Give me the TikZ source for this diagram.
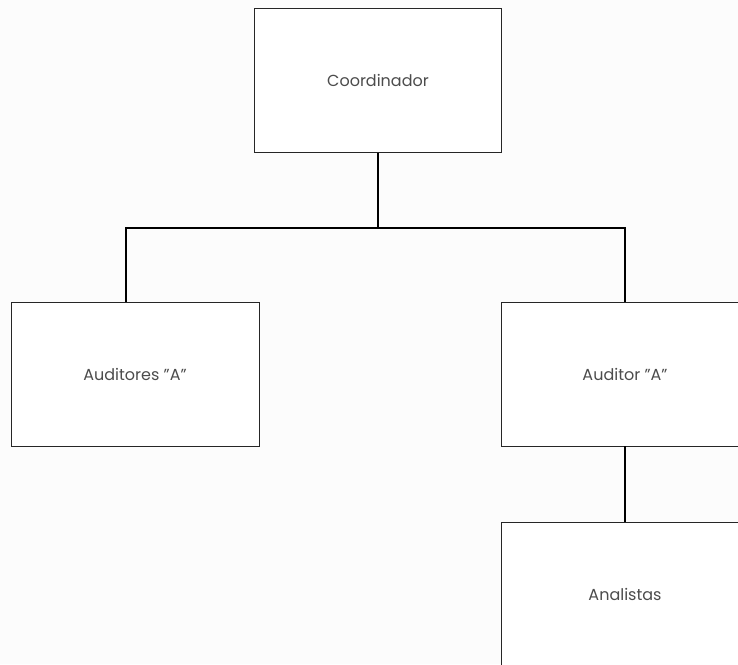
\documentclass[tikz,border=0pt]{standalone}
\usepackage{fontspec}
\setmainfont{Poppins}
\usetikzlibrary{positioning}
\tikzstyle{box} = [rectangle, minimum width=247pt, minimum height=144pt, text centered, draw=black!85, line width=0.8pt, fill=white, text=black!70, font=\fontsize{16}{19}\selectfont]
\tikzstyle{line} = [line width=1.5pt, black]

\begin{document}
\begin{tikzpicture}[x=1pt, y=1pt]
	\useasboundingbox (0,0) rectangle (738,664);
	\clip (0,0) rectangle (738,664);
	\fill[black!1] (0,0) rectangle (738,664);
	\node (coord) [box] at (378,583.5) {Coordinador};
	\node (audres) [box, minimum width=248pt] at (135,290) {Auditores "A"};
	\node (audor) [box] at (625,290) {Auditor "A"};
	\node (anal) [box] at (625,70) {Analistas};
	\coordinate (busL) at (126,436);
	\draw [line] (coord.south) -- (coord.south |- busL);
	\draw [line] (busL |- audres.north) -- (busL) -| (audor.north);
	\draw [line] (audor.south) -- (anal.north);
	
\end{tikzpicture}
\end{document}
